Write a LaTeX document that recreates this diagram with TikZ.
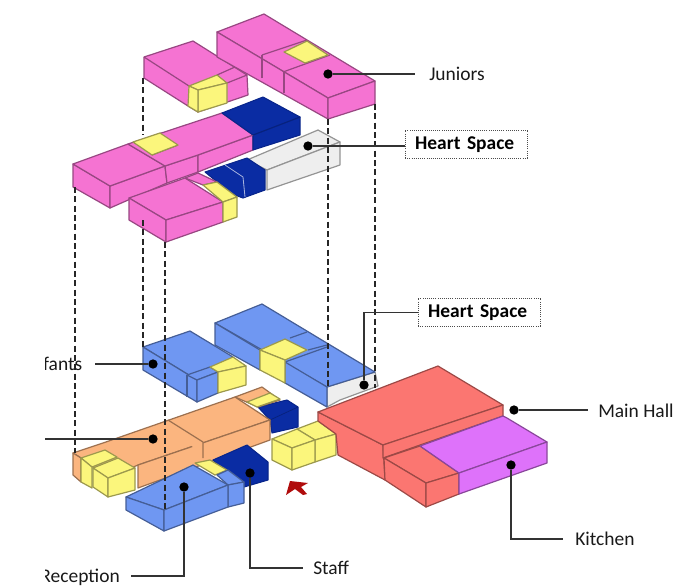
\documentclass[tikz,border=0pt]{standalone}
\usepackage{fontspec}
\setmainfont{Carlito}
\definecolor{pk}{HTML}{F573D2}
\definecolor{bl}{HTML}{6F97F2}
\definecolor{yl}{HTML}{FBF67C}
\definecolor{nv}{HTML}{0A2CA3}
\definecolor{og}{HTML}{FBB57F}
\definecolor{rd}{HTML}{FB7671}
\definecolor{pu}{HTML}{DE72FA}
\definecolor{wh}{HTML}{EEEEEE}
\definecolor{ar}{HTML}{B00C0C}
\tikzset{
 x=0.75pt,y=-0.75pt,
 face/.style={fill=#1,draw=#1!62!black,line width=0.9pt,line join=round},
 navy/.style={fill=nv,draw=nv!85!black,line width=0.8pt,line join=round},
 dot/.style={circle,fill=black,inner sep=0pt,minimum size=7pt},
 lead/.style={draw=black!80,line width=0.9pt},
 guide/.style={draw=black!85,line width=0.8pt,dash pattern=on 4.5pt off 2.5pt},
 lab/.style={inner sep=0pt,font=\fontsize{14.6}{16}\selectfont,text=black!90},
 hbox/.style={draw=black!70,densely dotted,line width=0.6pt,fill=white,minimum height=21.5pt,inner ysep=0pt,inner xsep=7.5pt,text width=77pt,align=left,font=\fontsize{14.6}{16}\selectfont\bfseries,text=black},
}
\begin{document}
\begin{tikzpicture}
\useasboundingbox (0,0) rectangle (694,587);
% --- upper storey
% left juniors
\draw[face=pk] (144,57)--(193,41)--(247,75)--(248,95)--(198,112)--(188,106)--(144,78)--cycle;
\draw[face=pk] (144,57)--(189,86);
\draw[face=pk] (217,75)--(235,67);
\draw[face=pk] (227,83)--(247,75);
\draw[face=yl] (189,86)--(217,75)--(227,83)--(198,90)--cycle;
\draw[face=yl] (198,90)--(227,83)--(227,103)--(198,112)--cycle;
\draw[face=yl] (189,86)--(198,90)--(198,112)--(188,106)--cycle;
% right juniors
\draw[face=pk] (217,32)--(264,14)--(375,81)--(328,98)--cycle;
\draw[face=pk] (217,32)--(328,98)--(328,119)--(217,57)--cycle;
\draw[face=pk] (328,98)--(375,81)--(375,104)--(328,119)--cycle;
\draw[face=pk] (262,55)--(307,40);
\draw[face=pk] (283,72)--(330,55);
\draw[face=pk] (262,55)--(262,78);
\draw[face=pk] (284,72)--(284,93);
\draw[face=yl] (284,52)--(307,41)--(328,55)--(305,63)--cycle;
% white heart space
\draw[face=wh] (247,160)--(318,130)--(340,142)--(267,170)--cycle;
\draw[face=wh] (267,170)--(340,142)--(340,165)--(267,190)--cycle;
% lower navy
\draw[navy] (205,172)--(247,158)--(265,170)--(265,190)--(243,198)--(232,194)--cycle;
\draw[white!65!nv,line width=0.6pt] (225,165)--(243,177)--(245,197);
% long pink
\draw[face=pk] (73,164)--(110,186)--(110,208)--(73,187)--cycle;
\draw[face=pk] (110,186)--(165,166)--(167,183)--(110,208)--cycle;
\draw[face=pk] (165,166)--(198,155)--(198,172)--(167,183)--cycle;
\draw[face=pk] (198,155)--(253,135)--(253,150)--(198,172)--cycle;
\draw[navy] (253,135)--(300,117)--(300,135)--(253,150)--cycle;
\draw[face=pk] (73,164)--(128,144)--(165,166)--(110,186)--cycle;
\draw[face=pk] (128,144)--(222,113)--(253,135)--(198,155)--(165,166)--cycle;
\draw[face=pk] (152,155)--(178,145);
\draw[face=yl] (133,142)--(160,133)--(178,145)--(152,155)--cycle;
\draw[navy] (222,113)--(263,97)--(300,117)--(253,135)--cycle;
\draw[nv!75!black,line width=0.5pt] (253,135)--(300,117);
% front pink
\draw[face=pk] (185,178)--(198,173)--(217,182)--(203,185)--cycle;
\draw[face=pk] (129,198)--(185,178)--(223,202)--(166,220)--cycle;
\draw[face=pk] (129,198)--(166,220)--(166,242)--(129,220)--cycle;
\draw[face=pk] (166,220)--(223,202)--(223,222)--(166,242)--cycle;
\draw[face=yl] (203,185)--(217,182)--(237,197)--(223,202)--cycle;
\draw[face=yl] (223,202)--(237,197)--(237,217)--(223,222)--cycle;
% --- lower storey
% right blue + white
\draw[face=wh] (327,387)--(375,372)--(378,386)--(340,400)--(327,407)--cycle;
\draw[face=bl] (215,323)--(262,304)--(375,372)--(327,387)--cycle;
\draw[face=bl] (215,323)--(260,350)--(260,370)--(215,345)--cycle;
\draw[face=bl] (285,362)--(327,387)--(327,407)--(285,383)--cycle;
\draw[face=bl] (285,362)--(327,347);
\draw[face=bl] (290,338)--(307,332);
\draw[face=bl] (308,350)--(327,345);
\draw[face=yl] (260,350)--(285,339)--(307,350)--(285,360)--cycle;
\draw[face=yl] (260,350)--(285,360)--(285,383)--(260,370)--cycle;
% infants
\draw[face=bl] (143,347)--(190,331)--(233,357)--(218,372)--(197,380)--cycle;
\draw[face=bl] (143,347)--(197,380)--(197,402)--(143,370)--cycle;
\draw[face=bl] (187,375)--(187,397);
\draw[face=bl] (187,375)--(210,367)--(218,372)--(197,380)--cycle;
\draw[face=bl] (197,380)--(218,372)--(218,393)--(197,402)--cycle;
\draw[face=yl] (210,367)--(233,357)--(246,366)--(218,372)--cycle;
\draw[face=yl] (218,372)--(246,366)--(246,385)--(218,393)--cycle;
% navy behind orange
\draw[navy] (258,407)--(287,400)--(298,407)--(298,427)--(272,433)--(270,420)--cycle;
\draw[nv!75!black,line width=0.5pt] (270,420)--(298,407);
% orange
\draw[face=og] (235,397)--(262,387)--(280,400)--(258,407)--cycle;
\draw[face=yl] (247,402)--(270,393)--(280,399)--(257,407)--cycle;
\draw[face=og] (73,453)--(103,443)--(235,397)--(270,420)--(138,465)--(108,478)--(81,458)--cycle;
\draw[face=og] (73,453)--(81,458)--(81,482)--(73,475)--cycle;
\draw[face=og] (138,465)--(270,420)--(270,440)--(138,488)--cycle;
\draw[face=og] (168,420)--(203,442)--(203,458);
% orange yellow ends
\draw[face=yl] (81,458)--(105,450)--(117,457)--(92,467)--cycle;
\draw[face=yl] (81,458)--(92,467)--(92,488)--(81,482)--cycle;
\draw[face=yl] (93,468)--(118,458)--(135,468)--(108,478)--cycle;
\draw[face=yl] (93,468)--(108,478)--(108,497)--(93,487)--cycle;
\draw[face=yl] (108,478)--(135,468)--(135,490)--(108,497)--cycle;
% staff navy
\draw[navy] (213,460)--(247,445)--(268,462)--(268,480)--(244,487)--(228,475)--cycle;
% reception
\draw[face=yl] (195,463)--(210,460)--(227,470)--(215,475)--cycle;
\draw[face=bl] (217,475)--(228,470)--(244,482)--(228,485)--cycle;
\draw[face=bl] (228,485)--(244,482)--(244,503)--(228,507)--cycle;
\draw[face=bl] (126,497)--(193,465)--(228,485)--(164,510)--cycle;
\draw[face=bl] (126,497)--(164,510)--(164,531)--(126,510)--cycle;
\draw[face=bl] (164,510)--(228,485)--(228,507)--(164,531)--cycle;
% entrance cubes
\draw[face=yl] (297,429)--(318,421)--(336,434)--(315,440)--cycle;
\draw[face=yl] (315,440)--(336,434)--(336,455)--(315,462)--cycle;
\draw[face=yl] (272,439)--(297,429)--(315,440)--(292,448)--cycle;
\draw[face=yl] (272,439)--(292,448)--(292,470)--(272,460)--cycle;
\draw[face=yl] (292,448)--(315,440)--(315,462)--(292,470)--cycle;
% red hall
\draw[face=rd] (318,412)--(383,445)--(385,480)--(338,455)--(336,434)--(318,421)--cycle;
\draw[face=rd] (318,412)--(438,366)--(503,405)--(383,445)--cycle;
\draw[face=rd] (383,445)--(503,405)--(503,416)--(383,458)--cycle;
\draw[face=rd] (384,458)--(420,446)--(459,473)--(426,483)--cycle;
\draw[face=rd] (384,458)--(426,483)--(426,507)--(385,480)--cycle;
\draw[face=rd] (426,483)--(459,473)--(459,494)--(426,507)--cycle;
\draw[face=pu] (420,446)--(503,416)--(507,418)--(547,442)--(459,473)--cycle;
\draw[face=pu] (459,473)--(547,442)--(547,463)--(459,494)--cycle;
% red arrow
\fill[ar] (286,495)--(290,481)--(308,483)--(301,487)--(307,494)--(303,495)--(295,489)--cycle;
% --- dashed guides
\coordinate (g1a) at (75,187); \coordinate (g1b) at (75,453);
\coordinate (g2a) at (143,78); \coordinate (g2b) at (143,135);
\coordinate (g2c) at (143,220); \coordinate (g2d) at (143,347);
\coordinate (g3a) at (165,242); \coordinate (g3b) at (165,510);
\coordinate (g4a) at (328,119); \coordinate (g4b) at (328,387);
\coordinate (g5a) at (375,104); \coordinate (g5b) at (375,388);
\draw[guide] (g1a)--(g1b);
\draw[guide] (g2a)--(g2b);
\draw[guide] (g2c)--(g2d);
\draw[guide] (g3a)--(g3b);
\draw[guide] (g4a)--(g4b);
\draw[guide] (g5a)--(g5b);
% --- labels
\begin{scope}
\clip (45,0) rectangle (694,587);
\node[lab,anchor=west] (juniors) at (429,74) {Juniors};
\node[lab,anchor=east] (infants) at (82.5,364) {Infants};
\node[lab,anchor=east] (reception) at (120,577) {Reception};
\node[lab,anchor=west] (staff) at (313,568) {Staff};
\node[lab,anchor=west] (kitchen) at (575,539) {Kitchen};
\node[lab,anchor=west] (mainhall) at (598,411) {Main Hall};
\end{scope}
\node[hbox] (heart1) at (466.5,144.5) {Heart Space};
\node[hbox] (heart2) at (479.5,312.5) {Heart Space};
% --- dots
\node[dot] (dJ) at (328,74) {};
\node[dot] (dH1) at (308,146) {};
\node[dot] (dH2) at (364,385) {};
\node[dot] (dI) at (153,364) {};
\node[dot] (dO) at (153,439) {};
\node[dot] (dM) at (514,410) {};
\node[dot] (dK) at (511,465) {};
\node[dot] (dS) at (250,473) {};
\node[dot] (dR) at (184,487) {};
% --- connectors
\coordinate (eJ) at (415,74);
\coordinate (eI) at (95,364);
\coordinate (eO) at (45,439);
\coordinate (eM) at (588,410);
\coordinate (eK) at (563,539);
\coordinate (eS) at (303,568);
\coordinate (eR) at (131,576);
\draw[lead] (dJ)--(eJ);
\draw[lead] (dH1)--(heart1.west|-dH1);
\draw[lead] (dH2)|-(heart2.west);
\draw[lead] (eI)--(dI);
\draw[lead] (eO)--(dO);
\draw[lead] (dM)--(eM);
\draw[lead] (dK)|-(eK);
\draw[lead] (dS)|-(eS);
\draw[lead] (dR)|-(eR);
\end{tikzpicture}
\end{document}
